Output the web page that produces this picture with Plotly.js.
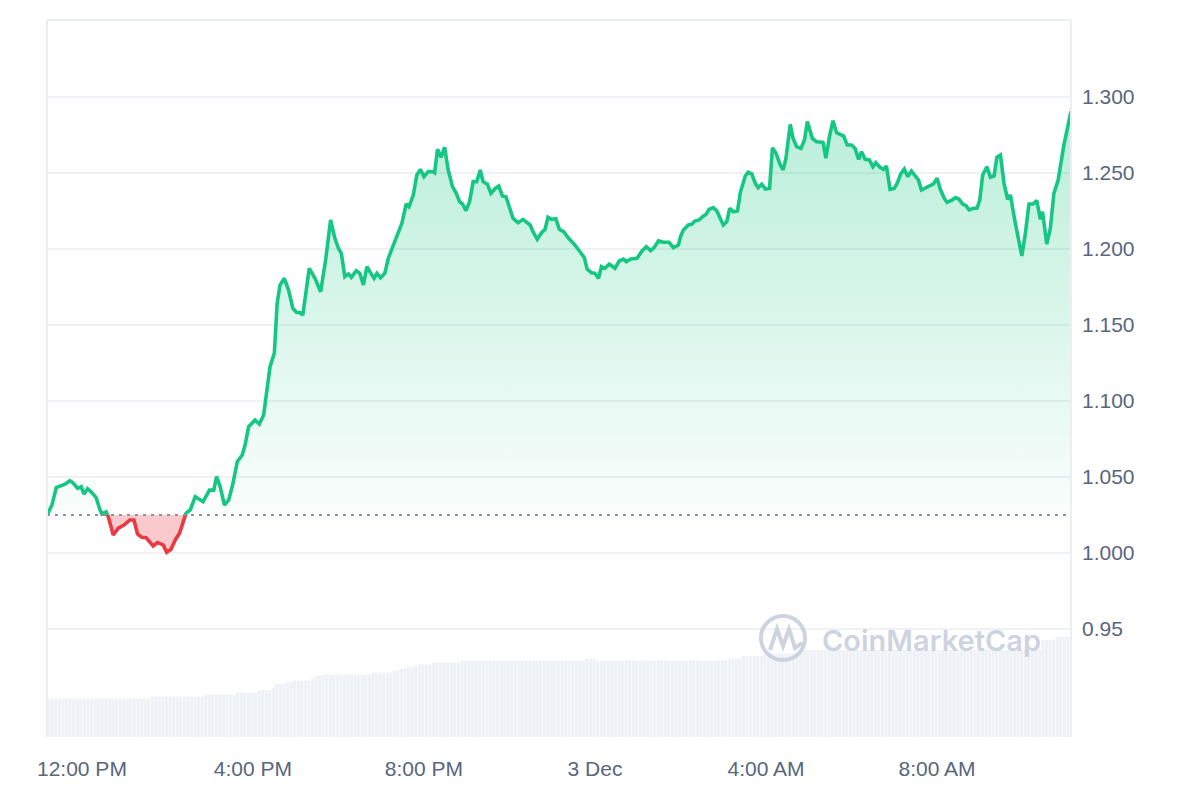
<!DOCTYPE html>
<html>
<head>
<meta charset="utf-8">
<script src="https://cdn.plot.ly/plotly-3.0.1.min.js"></script>
<style>
html,body{margin:0;padding:0;background:#ffffff;}
#chart{width:1200px;height:800px;}
</style>
</head>
<body>
<div id="chart"></div>
<script>
// ---------- DATA ----------
// Minutes after 12:00 PM, 2 Dec
const minutesFromNoon = [
  -49,-42,-36,-28,-23,-17,-13,-6,-1,3,
  8,14,20,25,28,34,37,44,51,59,
  67,73,78,84,90,100,106,114,119,125,
  131,137,143,146,152,159,170,179,185,189,
  194,200,206,212,218,225,229,234,243,249,
  255,261,264,270,274,278,284,290,296,301,
  306,310,313,319,327,335,342,349,355,360,
  364,369,374,378,385,390,395,400,404,410,
  414,419,425,430,437,444,449,455,459,465,
  470,475,480,486,493,495,499,504,509,514,
  520,525,530,534,539,544,549,554,559,563,
  569,574,580,585,590,595,600,605,612,619,
  629,633,639,645,650,654,659,665,670,676,
  683,692,699,705,709,715,720,725,729,734,
  740,748,754,760,764,770,779,786,792,798,
  803,809,816,824,830,837,840,844,851,856,
  860,866,871,876,880,886,891,895,900,905,
  909,914,920,924,931,935,940,945,949,954,
  959,965,969,974,980,984,988,994,998,1003,
  1009,1014,1018,1025,1031,1040,1044,1049,1054,1059,
  1065,1069,1074,1080,1085,1090,1094,1099,1105,1110,
  1114,1120,1125,1129,1134,1140,1144,1149,1154,1159,
  1164,1169,1174,1178,1185,1191,1195,1200,1205,1210,
  1214,1221,1226,1231,1236,1241,1245,1251,1256,1260,
  1264,1270,1275,1280,1284,1289,1294,1299,1303,1309,
  1319,1324,1329,1335,1340,1345,1348,1354,1359,1364,
  1370,1378,1388
];
const price = [
  1.0250,1.0316,1.0430,1.0441,1.0454,1.0476,1.0463,1.0426,1.0436,1.0388,
  1.0423,1.0397,1.0364,1.0288,1.0257,1.0270,1.0239,1.0118,1.0163,1.0184,
  1.0217,1.0217,1.0125,1.0103,1.0101,1.0046,1.0068,1.0053,1.0005,1.0024,
  1.0086,1.0130,1.0228,1.0261,1.0283,1.0370,1.0337,1.0414,1.0414,1.0502,
  1.0436,1.0316,1.0349,1.0459,1.0601,1.0645,1.0711,1.0831,1.0875,1.0849,
  1.0908,1.1138,1.1226,1.1314,1.1643,1.1763,1.1807,1.1730,1.1610,1.1584,
  1.1581,1.1566,1.1676,1.1873,1.1807,1.1719,1.1928,1.2191,1.2070,1.2005,
  1.1972,1.1818,1.1836,1.1814,1.1857,1.1840,1.1763,1.1884,1.1851,1.1807,
  1.1840,1.1811,1.1840,1.1939,1.2026,1.2103,1.2169,1.2296,1.2278,1.2355,
  1.2487,1.2524,1.2476,1.2509,1.2509,1.2502,1.2656,1.2603,1.2669,1.2520,
  1.2410,1.2370,1.2311,1.2296,1.2252,1.2311,1.2443,1.2443,1.2520,1.2443,
  1.2426,1.2366,1.2399,1.2414,1.2349,1.2344,1.2268,1.2202,1.2173,1.2195,
  1.2158,1.2114,1.2064,1.2107,1.2130,1.2209,1.2195,1.2199,1.2130,1.2114,
  1.2070,1.2026,1.1982,1.1943,1.1868,1.1844,1.1840,1.1807,1.1884,1.1873,
  1.1901,1.1873,1.1921,1.1934,1.1916,1.1934,1.1939,1.1987,1.2015,1.1989,
  1.2009,1.2053,1.2044,1.2044,1.2009,1.2026,1.2081,1.2125,1.2158,1.2163,
  1.2184,1.2191,1.2212,1.2228,1.2261,1.2272,1.2250,1.2202,1.2158,1.2180,
  1.2268,1.2245,1.2250,1.2373,1.2482,1.2505,1.2495,1.2432,1.2403,1.2426,
  1.2395,1.2399,1.2666,1.2630,1.2553,1.2520,1.2597,1.2820,1.2728,1.2673,
  1.2662,1.2717,1.2838,1.2728,1.2706,1.2702,1.2597,1.2739,1.2844,1.2765,
  1.2750,1.2743,1.2684,1.2684,1.2662,1.2590,1.2640,1.2590,1.2586,1.2541,
  1.2568,1.2538,1.2524,1.2546,1.2393,1.2399,1.2432,1.2493,1.2526,1.2476,
  1.2513,1.2480,1.2454,1.2388,1.2406,1.2419,1.2428,1.2465,1.2388,1.2334,
  1.2307,1.2322,1.2338,1.2327,1.2296,1.2283,1.2257,1.2268,1.2268,1.2322,
  1.2487,1.2541,1.2472,1.2480,1.2603,1.2618,1.2432,1.2327,1.2355,1.2191,
  1.1954,1.2103,1.2296,1.2296,1.2318,1.2195,1.2245,1.2033,1.2136,1.2366,
  1.2454,1.2684,1.2905
];
// Volume bars, one per 5 minutes starting at the first price time (millions)
const volumeStartMinute = -49;
const volumeStepMinutes = 5;
const volume = [
  77,77,77,77,77,77,77,77,77,77,77,77,77,77,77,77,77,77,77,77,77,77,77,77,
  77,77,77,77,77,81,81,81,81,81,81,81,81,81,81,81,81,81,81,81,85,85,85,85,
  85,85,85,85,85,89,89,89,89,89,89,94,94,94,94,99,106,106,106,110,110,113,113,113,
  113,113,117,122,124,124,125,125,125,125,125,125,125,125,125,125,125,125,125,129,129,129,129,129,
  129,132,134,137,137,141,141,143,145,145,145,145,149,149,149,149,149,149,149,149,153,153,153,153,
  153,153,153,153,153,153,153,153,153,153,153,153,153,153,153,153,153,153,153,153,153,153,153,153,
  153,153,153,153,153,153,153,157,157,157,153,153,153,153,153,153,153,153,153,153,153,153,153,153,
  153,153,153,153,153,153,153,153,153,153,153,153,153,153,153,153,153,153,153,153,153,153,153,157,
  157,157,157,162,162,162,162,162,162,167,167,167,167,167,167,167,167,167,167,174,174,174,174,174,
  174,174,174,174,174,174,174,174,174,174,174,174,174,174,174,174,174,174,174,174,174,174,174,174,
  174,174,174,174,174,174,174,174,174,174,174,174,174,174,174,174,174,174,174,174,174,174,174,174,
  174,174,174,174,174,174,174,174,174,174,174,174,174,174,174,194,194,194,194,201,201,201,201,201
];
const xTickMinutes = [0, 240, 480, 720, 960, 1200];
const xTickLabels = ['12:00 PM', '4:00 PM', '8:00 PM', '3 Dec', '4:00 AM', '8:00 AM'];
const yTickValues = [0.95, 1.0, 1.05, 1.1, 1.15, 1.2, 1.25, 1.3];
const yTickLabels = ['0.95', '1.000', '1.050', '1.100', '1.150', '1.200', '1.250', '1.300'];

// ---------- HELPERS ----------
const NOON = Date.UTC(2024, 11, 2, 12, 0, 0);
function stamp(m) {
  return new Date(NOON + m * 60000).toISOString().slice(0, 19).replace('T', ' ');
}
const times = minutesFromNoon.map(stamp);
const volTimes = volume.map((v, i) => stamp(volumeStartMinute + volumeStepMinutes * (i + 0.5)));
const openPrice = price[0];
const maxPrice = Math.max.apply(null, price);

const yMin = 0.87895, yMax = 1.35066;
const baseFrac = (openPrice - yMin) / (yMax - yMin);

const GREEN = '#16c784', RED = '#ea3943';
const TXT = '#58667e';

// pixel -> paper helpers (decoration only)
const L = 47, R = 1071, T = 20, B = 737;
const px = x => (x - L) / (R - L);
const py = y => (B - y) / (B - T);

const traces = [
  { // volume
    type: 'bar', x: volTimes, y: volume, xaxis: 'x', yaxis: 'y4',
    marker: { color: '#eef1f5', line: { width: 0 } }, hoverinfo: 'skip'
  },
  { // green area + line above open price
    type: 'scatter', mode: 'lines', x: times, y: price, xaxis: 'x', yaxis: 'y2',
    line: { color: GREEN, width: 3.6, shape: 'linear' },
    fill: 'tozeroy',
    fillgradient: {
      type: 'vertical', start: openPrice, stop: maxPrice,
      colorscale: [[0, 'rgba(22,199,132,0.02)'], [1, 'rgba(22,199,132,0.30)']]
    },
    hoverinfo: 'skip'
  },
  { // open price reference for red fill
    type: 'scatter', mode: 'lines', x: [times[0], times[times.length - 1]], y: [openPrice, openPrice],
    xaxis: 'x', yaxis: 'y3', line: { width: 0, color: 'rgba(0,0,0,0)' }, hoverinfo: 'skip'
  },
  { // red area + line below open price
    type: 'scatter', mode: 'lines', x: times, y: price, xaxis: 'x', yaxis: 'y3',
    line: { color: RED, width: 3.6 }, fill: 'tonexty', fillcolor: 'rgba(234,57,67,0.27)',
    hoverinfo: 'skip'
  }
];

const shapes = [
  // open price dotted line
  { type: 'line', xref: 'paper', yref: 'y', x0: 0, x1: 1, y0: openPrice, y1: openPrice,
    line: { color: '#8a93a3', width: 2, dash: '3px,5px' }, layer: 'above' },
  // frame
  { type: 'line', xref: 'paper', yref: 'paper', x0: 0, x1: 0, y0: 0, y1: 1, line: { color: '#eceff2', width: 2 } },
  { type: 'line', xref: 'paper', yref: 'paper', x0: 1, x1: 1, y0: 0, y1: 1, line: { color: '#eceff2', width: 2 } },
  { type: 'line', xref: 'paper', yref: 'paper', x0: 0, x1: 1, y0: 1, y1: 1, line: { color: '#eceff2', width: 2 } },
  // watermark logo circle
  { type: 'circle', xref: 'paper', yref: 'paper', x0: px(761), x1: px(805), y0: py(660), y1: py(616),
    line: { color: 'rgba(196,204,218,0.85)', width: 4 }, layer: 'above' },
  // watermark logo "M" wave
  { type: 'path', xref: 'paper', yref: 'paper', layer: 'above',
    path: 'M ' + px(770) + ' ' + py(650) +
          ' L ' + px(777) + ' ' + py(629) +
          ' L ' + px(783) + ' ' + py(646) +
          ' L ' + px(789) + ' ' + py(629) +
          ' L ' + px(795) + ' ' + py(648) +
          ' L ' + px(802) + ' ' + py(643),
    line: { color: 'rgba(196,204,218,0.85)', width: 4 } }
];

const layout = {
  width: 1200, height: 800,
  margin: { l: L, r: 1200 - R, t: T, b: 800 - B, pad: 0 },
  paper_bgcolor: '#ffffff', plot_bgcolor: 'rgba(0,0,0,0)',
  showlegend: false, hovermode: false, bargap: 0.12,
  font: { family: '"Liberation Sans", Arial, sans-serif', color: TXT, size: 21 },
  xaxis: {
    type: 'date', range: [times[0], times[times.length - 1]],
    tickvals: xTickMinutes.map(stamp), ticktext: xTickLabels,
    showgrid: false, zeroline: false, showline: false, ticks: '',
    ticklabelstandoff: 17, tickfont: { size: 21, color: TXT }, fixedrange: true
  },
  yaxis: {
    range: [yMin, yMax], side: 'right', tickvals: yTickValues, ticktext: yTickLabels,
    showgrid: true, gridcolor: '#eff1f4', gridwidth: 2, zeroline: false, showline: false,
    ticks: '', ticklabelstandoff: 10, tickfont: { size: 21, color: TXT }, fixedrange: true
  },
  yaxis2: { domain: [baseFrac, 1], range: [openPrice, yMax], anchor: 'x', visible: false, fixedrange: true },
  yaxis3: { domain: [0, baseFrac], range: [yMin, openPrice], anchor: 'x', visible: false, fixedrange: true },
  yaxis4: { overlaying: 'y', range: [0, 1434], visible: false, fixedrange: true },
  shapes: shapes,
  annotations: [{
    xref: 'paper', yref: 'paper', x: px(820), y: py(640), xanchor: 'left', yanchor: 'middle',
    text: 'CoinMarketCap', showarrow: false,
    font: { family: 'Inter, "Open Sans", sans-serif', size: 29, weight: 600, color: 'rgba(196,204,218,0.85)' }
  }]
};

Plotly.newPlot('chart', traces, layout, { displayModeBar: false, staticPlot: true });
</script>
</body>
</html>
